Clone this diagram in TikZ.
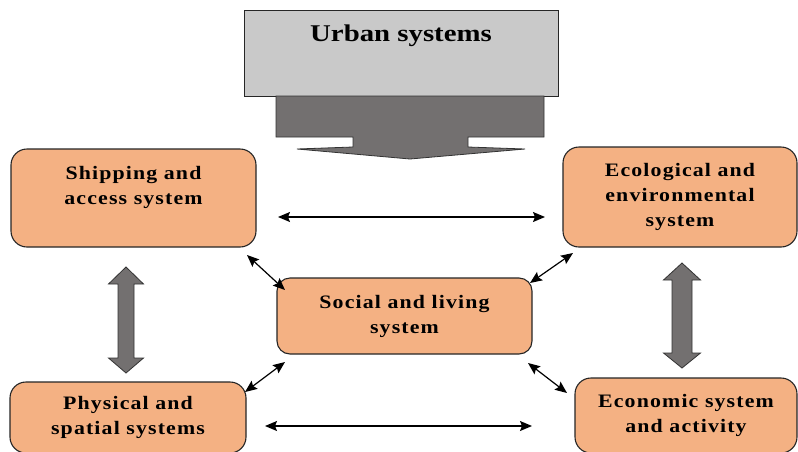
\documentclass[tikz,border=0pt]{standalone}
\usepackage{fontspec}
\setmainfont{Liberation Serif}
\newfontfamily\boxfont[LetterSpace=6,FakeStretch=1.15]{Liberation Serif}
\newfontfamily\titlefont[FakeStretch=1.2]{Liberation Serif}
\usetikzlibrary{arrows.meta}
\definecolor{peach}{HTML}{F4B183}
\definecolor{boxgray}{HTML}{C9C9C9}
\definecolor{arrowgray}{HTML}{737070}
\tikzset{
  sysbox/.style={draw=black!85, line width=1.1pt, fill=peach, rounded corners=16pt,
    anchor=north west, outer sep=0pt, align=center,
    font=\boxfont\bfseries\fontsize{19pt}{25pt}\selectfont},
  boxtext/.style={align=center, font=\boxfont\bfseries\fontsize{19pt}{25pt}\selectfont},
  link/.style={line width=1.2pt, {Stealth[length=12pt,width=10pt,inset=2pt]}-{Stealth[length=12pt,width=10pt,inset=2pt]}},
  bigarrow/.style={draw=black!80, line width=0.8pt, fill=arrowgray},
}
\begin{document}
\begin{tikzpicture}[x=1pt,y=-1pt]
  \path[use as bounding box, fill=white] (0,0) rectangle (798,451);
  % Urban systems (grey box) and the wide arrow under it
  \node[draw=black!85, line width=1pt, fill=boxgray, anchor=north west, outer sep=0pt,
        minimum width=314pt, minimum height=86pt] (urban) at (244,10) {};
  \node[font=\titlefont\bfseries\fontsize{24pt}{28pt}\selectfont] (urbantext)
        at ([yshift=-26pt]urban.north) {Urban systems};
  \draw[bigarrow] (276,96) -- (544,96) -- (544,137) -- (468,137) -- (468,147) -- (525,149)
    -- (410,159) -- (297,149) -- (353,147) -- (353,137) -- (276,137) -- cycle;
  % the five subsystems
  \node[sysbox, minimum width=245pt, minimum height=98pt] (ship) at (11,149) {};
  \node[boxtext] (shiptext) at ([yshift=11pt]ship.center) {Shipping and\\access system};
  \node[sysbox, minimum width=234pt, minimum height=100pt] (eco) at (563,147)
        {Ecological and\\environmental\\system};
  \node[sysbox, rounded corners=13pt, minimum width=255pt, minimum height=76pt] (social) at (277,278)
        {Social and living\\system};
  \node[sysbox, minimum width=236pt, minimum height=71pt] (phys) at (10,382)
        {Physical and\\spatial systems};
  \node[sysbox, minimum width=222pt, minimum height=75pt] (econ) at (575,378)
        {Economic system\\and activity};
  % horizontal links
  \draw[link] ([xshift=22pt,yshift=-19pt]ship.east) -- ([xshift=-18pt,yshift=-20pt]eco.west);
  \draw[link] ([xshift=19pt,yshift=-8.5pt]phys.east) -- ([xshift=-43pt,yshift=-10.5pt]econ.west);
  % diagonal links to the social system
  \draw[link] ([xshift=-9pt,yshift=-8pt]ship.south east) -- ([xshift=8pt,yshift=-12pt]social.north west);
  \draw[link] ([xshift=-2pt,yshift=-5pt]social.north east) -- ([xshift=10pt,yshift=-6pt]eco.south west);
  \draw[link] ([xshift=-1pt,yshift=-10pt]phys.north east) -- ([xshift=8pt,yshift=-8pt]social.south west);
  \draw[link] ([xshift=-4pt,yshift=-9pt]social.south east) -- ([xshift=-8pt,yshift=-15pt]econ.north west);
  % grey double arrows
  \draw[bigarrow] (126,267) -- (143.5,284) -- (134,284) -- (134,358) -- (143.5,358) -- (126,373)
    -- (108.5,358) -- (118,358) -- (118,284) -- (108.5,284) -- cycle;
  \draw[bigarrow] (682,263) -- (700.5,280) -- (692,280) -- (692,353) -- (700.5,353) -- (682,368)
    -- (663.5,353) -- (672,353) -- (672,280) -- (663.5,280) -- cycle;
\end{tikzpicture}
\end{document}
